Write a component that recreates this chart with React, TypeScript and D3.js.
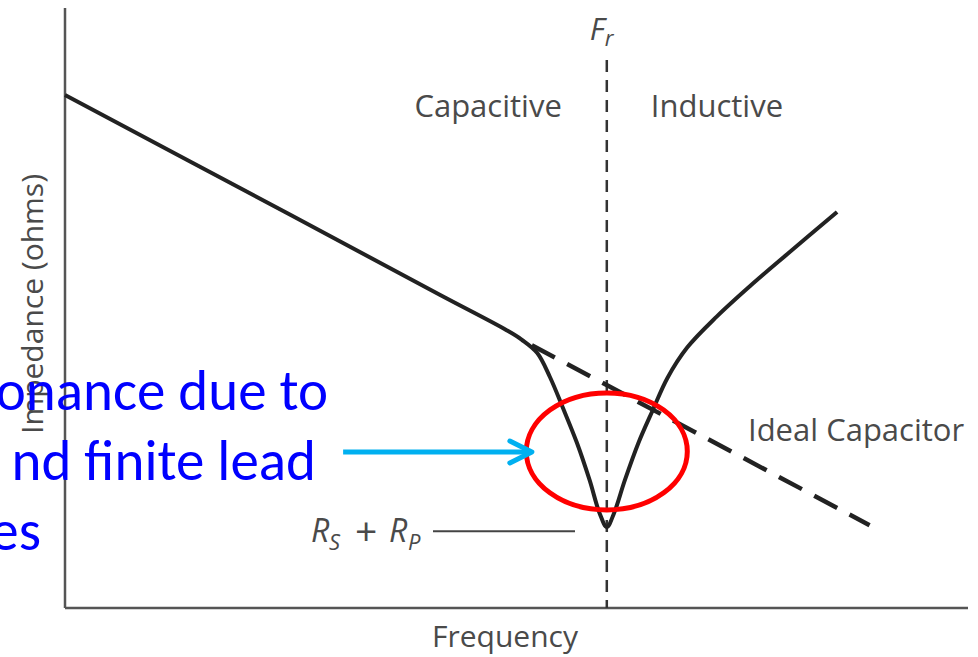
import React from 'react';
import * as d3 from 'd3';

// impedance curve of a real capacitor (frequency, impedance) in chart units
const realFreq = [0, 25, 41.5, 48.9, 50.6, 52.3, 53.7, 55.1, 56.7, 58.1, 59.2, 60, 60.8, 62, 63.5, 65.1, 66.7, 68.9, 72.2, 75.9, 80, 85.5];
const realImp = [85.5, 65.5, 52.2, 46.3, 44.7, 42.5, 38.5, 33.5, 27.5, 21.3, 15.8, 13.5, 15.8, 21.3, 27.5, 33.0, 38.3, 43.4, 48.6, 53.7, 59.0, 66.0];

// ideal capacitor asymptote (dashed)
const idealFreq = [51.7, 89.1];
const idealImp = [43.8, 13.8];

// resonant frequency and R_S + R_P level
const resonantFreq = 60;
const minImpedance = 12.8;

const regionLabels = ['Capacitive', 'Inductive'];
const xAxisTitle = 'Frequency';
const yAxisTitle = 'Impedance (ohms)';
const idealLabel = 'Ideal Capacitor';
const noteLines = ['onance due to', 'nd finite lead', 'es'];

const W = 978;
const H = 657;

const App = () => {
    // Set scales (axis corner at 65,608)
    const x = d3.scaleLinear().domain([0, 100]).range([65, 968]);
    const y = d3.scaleLinear().domain([0, 100]).range([608, 8]);

    const realPts = realFreq.map((f, i) => [f, realImp[i]] as [number, number]);
    const idealPts = idealFreq.map((f, i) => [f, idealImp[i]] as [number, number]);

    const line = d3.line<[number, number]>()
        .x(d => x(d[0]))
        .y(d => y(d[1]))
        .curve(d3.curveCatmullRom.alpha(0.5));

    const labelFont = "'Open Sans', 'Noto Sans', sans-serif";
    const labelColor = '#4a4a4a';

    const fr = x(resonantFreq);

    // annotation arrow + ellipse
    const arrowY = y(26);
    const arrowX0 = x(30.8);
    const arrowX1 = x(51.7);
    const ellCy = y(26.1);

    return (
        <svg width={W} height={H} style={{ position: 'absolute', left: 0, top: 0, background: '#fff' }}>
            {/* axes */}
            <line x1={x(0)} y1={y(100)} x2={x(0)} y2={y(0)} stroke="#555" strokeWidth={2.5} />
            <line x1={x(0)} y1={y(0)} x2={x(100)} y2={y(0)} stroke="#555" strokeWidth={2.5} />

            {/* resonant frequency marker */}
            <line x1={fr} y1={60} x2={fr} y2={y(0)} stroke="#333" strokeWidth={2.5} strokeDasharray="12,8" />
            <text x={fr - 17} y={40} fontFamily={labelFont} fontStyle="italic" fontSize={31} fill={labelColor}>
                F<tspan fontSize={22} dy={6}>r</tspan>
            </text>

            {/* region labels */}
            <text x={fr - 45} y={117} textAnchor="end" fontFamily={labelFont} fontSize={31} fill={labelColor}>{regionLabels[0]}</text>
            <text x={fr + 44} y={117} fontFamily={labelFont} fontSize={31} fill={labelColor}>{regionLabels[1]}</text>

            {/* curves */}
            <path d={line(idealPts) || ''} fill="none" stroke="#222" strokeWidth={4.5} strokeDasharray="26,14" />
            <path d={line(realPts) || ''} fill="none" stroke="#222" strokeWidth={4} strokeLinejoin="round" />

            <text x={748} y={441} fontFamily={labelFont} fontSize={31} fill={labelColor}>{idealLabel}</text>

            {/* R_S + R_P */}
            <line x1={433} y1={y(minImpedance)} x2={575} y2={y(minImpedance)} stroke="#444" strokeWidth={2} />
            <g fontFamily={labelFont} fontSize={32} fill={labelColor}>
                <text x={311} y={542} fontStyle="italic">R</text>
                <text x={329} y={550} fontStyle="italic" fontSize={22}>S</text>
                <text x={355} y={545} fontSize={39}>+</text>
                <text x={389} y={542} fontStyle="italic">R</text>
                <text x={408} y={550} fontStyle="italic" fontSize={22}>P</text>
            </g>

            {/* axis titles */}
            <text x={505} y={647} textAnchor="middle" fontFamily={labelFont} fontSize={30} fill={labelColor}>{xAxisTitle}</text>
            <text transform="translate(43,304) rotate(-90)" textAnchor="middle" fontFamily={labelFont} fontSize={30} fill={labelColor}>{yAxisTitle}</text>

            {/* annotation */}
            <ellipse cx={fr} cy={ellCy} rx={80.5} ry={58.5} fill="none" stroke="#ff0000" strokeWidth={5} />
            <line x1={arrowX0} y1={arrowY} x2={arrowX1 - 2} y2={arrowY} stroke="#00b0f0" strokeWidth={5} />
            <polyline points={`${arrowX1 - 22},${arrowY - 11} ${arrowX1},${arrowY} ${arrowX1 - 22},${arrowY + 11}`}
                fill="none" stroke="#00b0f0" strokeWidth={5} strokeLinecap="round" strokeLinejoin="round" />

            {noteLines.map((t, i) => (
                <text key={t} x={[328, 316, 41][i]} y={410 + i * 70} textAnchor="end"
                    fontFamily="Carlito, 'Open Sans', sans-serif" fontSize={57} fill="#0000ff">{t}</text>
            ))}
        </svg>
    );
};

export default App;
